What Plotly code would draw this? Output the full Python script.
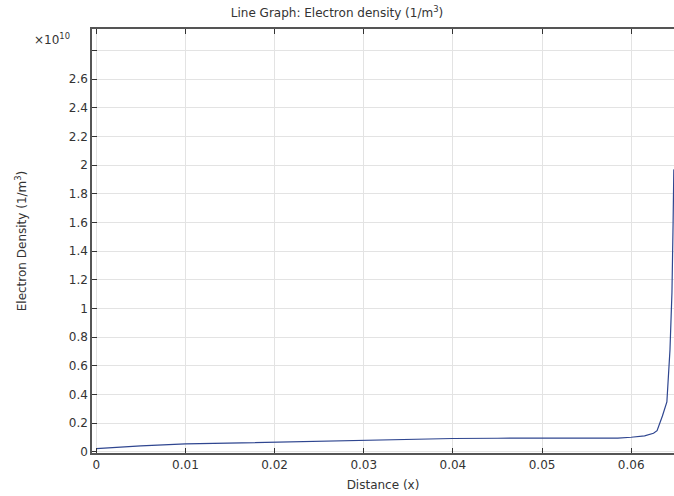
import plotly.graph_objects as go

# Data (electron density in units of 1e10 1/m^3)
distance = [0, 0.002, 0.005, 0.01, 0.015, 0.02, 0.025, 0.03, 0.035, 0.04, 0.045, 0.05,
            0.055, 0.0585, 0.06, 0.0615, 0.0625, 0.0629, 0.0635, 0.064, 0.06435,
            0.06457, 0.0647, 0.06478]
density = [0.022, 0.03, 0.042, 0.055, 0.062, 0.068, 0.074, 0.08, 0.086, 0.093, 0.095, 0.095,
           0.095, 0.096, 0.102, 0.112, 0.13, 0.148, 0.25, 0.348, 0.713,
           1.11, 1.6, 1.97]

x_ticks = [0, 0.01, 0.02, 0.03, 0.04, 0.05, 0.06]
x_labels = ["0", "0.01", "0.02", "0.03", "0.04", "0.05", "0.06"]
y_ticks = [0, 0.2, 0.4, 0.6, 0.8, 1.0, 1.2, 1.4, 1.6, 1.8, 2.0, 2.2, 2.4, 2.6, 2.8]
y_labels = ["0", "0.2", "0.4", "0.6", "0.8", "1", "1.2", "1.4", "1.6", "1.8", "2",
            "2.2", "2.4", "2.6", ""]

font = "DejaVu Sans"
txt = "#333333"

fig = go.Figure()
fig.add_trace(go.Scatter(x=distance, y=density, mode="lines",
                         line=dict(color="#2f4690", width=1.2), showlegend=False))

fig.update_layout(
    width=674, height=496,
    margin=dict(l=92, r=0, t=29, b=43, autoexpand=False),
    paper_bgcolor="white", plot_bgcolor="white",
    font=dict(family=font, size=12, color=txt),
    title=dict(text="Line Graph: Electron density (1/m<sup>3</sup>)",
               x=0.5, xanchor="center", y=0.982, yanchor="top",
               font=dict(family=font, size=12, color=txt)),
    xaxis=dict(range=[-0.00048, 0.0648], tickvals=x_ticks, ticktext=x_labels,
               automargin=False,
               showgrid=True, gridcolor="#e3e3e3", gridwidth=1,
               showline=True, linecolor="#555555", linewidth=1.5, mirror="ticks",
               ticks="inside", ticklen=5, tickcolor="#333333",
               zeroline=False,
               title=dict(text="Distance (x)", standoff=9,
                          font=dict(family=font, size=12, color=txt))),
    yaxis=dict(range=[-0.008, 2.949], tickvals=y_ticks, ticktext=y_labels,
               automargin=False,
               showgrid=True, gridcolor="#e3e3e3", gridwidth=1,
               showline=True, linecolor="#555555", linewidth=1.5,
               ticks="inside", ticklen=5, tickcolor="#333333",
               zeroline=False,
               title=dict(text="Electron Density (1/m<sup>3</sup>)", standoff=40,
                          font=dict(family=font, size=12, color=txt))),
)

fig.add_annotation(text="×10<sup>10</sup>", xref="paper", yref="paper",
                   x=-0.034, y=1.0, xanchor="right", yanchor="top", showarrow=False,
                   font=dict(family=font, size=12, color=txt))

fig.write_html("out.html", config={"displayModeBar": False},
               post_script="document.body.style.margin='0';document.body.style.overflow='hidden';")
